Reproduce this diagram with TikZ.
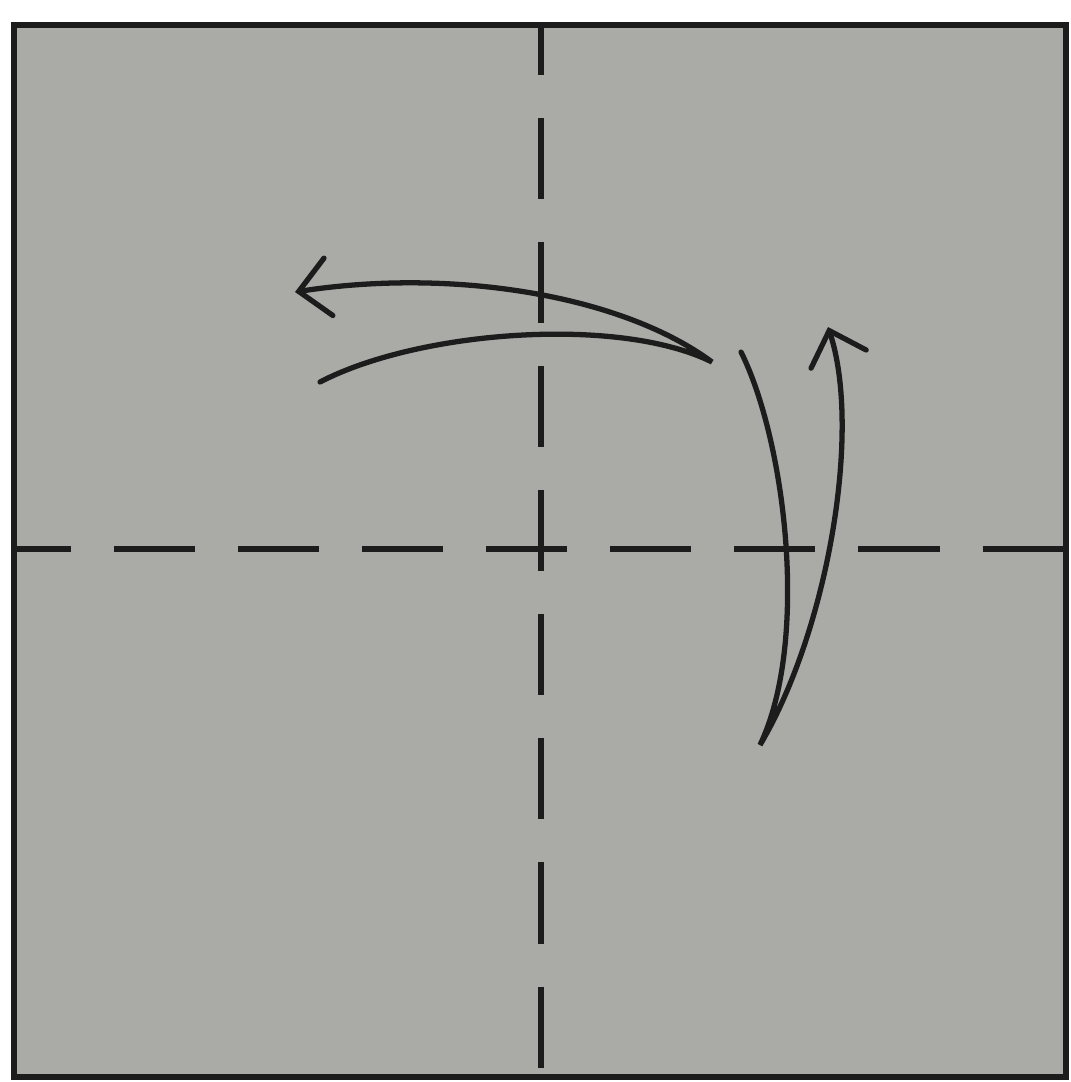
\documentclass[tikz,border=0pt]{standalone}
\usetikzlibrary{arrows.meta}
\definecolor{paper}{RGB}{170,170,167}
\definecolor{ink}{RGB}{28,28,28}
\begin{document}
\begin{tikzpicture}[x=0.01cm, y=-0.01cm,
    sheet/.style={draw=ink, line width=1.6pt, fill=paper},
    valley/.style={draw=ink, line width=1.7pt, dash pattern=on 0.81cm off 0.43cm},
    foldarrow/.style={draw=ink, line width=1.5pt, line cap=round, line join=miter,
      -{Straight Barb[length=0.3cm, width=0.58cm, line cap=round]}}]
    \useasboundingbox (0,0) rectangle (1071,1082);
    % the square sheet
    \coordinate (tl) at (14,25);
    \coordinate (br) at (1066,1077);
    \draw[sheet] (tl) rectangle (br);
    % fold lines
    \coordinate (hl) at (14,549);
    \coordinate (hr) at (1066,549);
    \coordinate (vt) at (541,25);
    \coordinate (vb) at (541,1077);
    \draw[valley, dash phase=0.24cm] (hl) -- (hr);
    \draw[valley, dash phase=0.31cm] (vt) -- (vb);
    % arrow to the left
    \coordinate (topstart) at (320,382);
    \coordinate (topturn)  at (712,362);
    \coordinate (toptip)   at (295,292);
    \draw[foldarrow] (topstart) .. controls (420,330) and (620,316) .. (topturn)
                     .. controls (620,294) and (450,268) .. (toptip);
    % arrow upwards
    \coordinate (sidestart) at (741,352);
    \coordinate (sideturn)  at (760,745);
    \coordinate (sidetip)   at (828,327);
    \draw[foldarrow] (sidestart) .. controls (785,440) and (810,640) .. (sideturn)
                     .. controls (828,630) and (862,430) .. (sidetip);
\end{tikzpicture}
\end{document}
